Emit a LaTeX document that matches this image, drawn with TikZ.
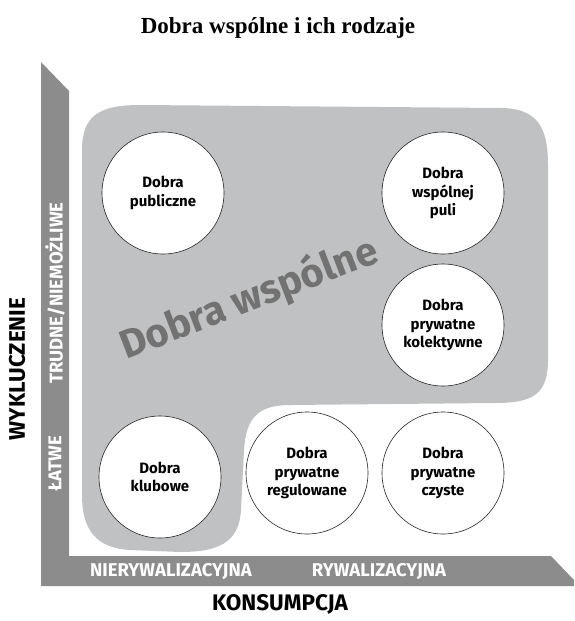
\documentclass[tikz,border=0pt]{standalone}
\usepackage{fontspec}
\setmainfont{Liberation Serif}
\newfontfamily\lab{Fira Sans}
\definecolor{bargray}{HTML}{8C8C8C}
\definecolor{blobgray}{HTML}{C0C1C2}
\definecolor{wordgray}{HTML}{727272}
\begin{document}
\begin{tikzpicture}[x=1pt,y=-1pt,
  good/.style={circle,draw=black!85,line width=0.6pt,fill=white,minimum size=122pt,inner sep=0pt,
    align=center,font=\lab\bfseries\fontsize{15}{18.5}\selectfont},
  axlab/.style={font=\lab\bfseries\fontsize{18.5}{20}\selectfont,text=white},
  axtitle/.style={font=\lab\bfseries\fontsize{22.5}{24}\selectfont,text=black}]
\useasboundingbox (0,0) rectangle (574,621);
% title
\node[font=\bfseries\fontsize{23}{26}\selectfont] (title) at (278,28) {Dobra wspólne i ich rodzaje};
% axes bar
\fill[bargray] (41,62) -- (69,91) -- (69,556) -- (551,556) -- (574,580) -- (574,586) -- (41,586) -- cycle;
% blob
\fill[blobgray] (82,150) .. controls (82,115) and (100,105) .. (140,105)
  -- (500,108) .. controls (538,108) and (548,128) .. (548,165)
  -- (548,360) .. controls (548,395) and (532,403) .. (495,403)
  -- (290,405) .. controls (258,405) and (246,418) .. (244,450)
  -- (241,510) .. controls (239,543) and (218,552) .. (180,552)
  -- (130,550) .. controls (96,548) and (82,530) .. (82,495) -- cycle;
\node[rotate=21,font=\lab\bfseries\fontsize{40}{42}\selectfont,text=wordgray] (ws) at (249,299) {Dobra wspólne};
% goods
\node[good] (pub) at (163,193) {Dobra\\publiczne};
\node[good] (pula) at (443,193) {Dobra\\wspólnej\\puli};
\node[good] (kol) at (443,325) {Dobra\\prywatne\\kolektywne};
\node[good] (klub) at (160,477) {Dobra\\klubowe};
\node[good] (reg) at (307,473) {Dobra\\prywatne\\regulowane};
\node[good] (czy) at (443,473) {Dobra\\prywatne\\czyste};
% axis labels
\node[axlab,rotate=90] (trud) at (55,293) {TRUDNE/NIEMOŻLIWE};
\node[axlab,rotate=90] (latw) at (55,464) {ŁATWE};
\node[axlab] (nier) at (171,571) {NIERYWALIZACYJNA};
\node[axlab] (ryw) at (379,571) {RYWALIZACYJNA};
\node[axtitle,rotate=90] (wyk) at (17,369) {WYKLUCZENIE};
\node[axtitle] (kons) at (280,604) {KONSUMPCJA};
\end{tikzpicture}
\end{document}
